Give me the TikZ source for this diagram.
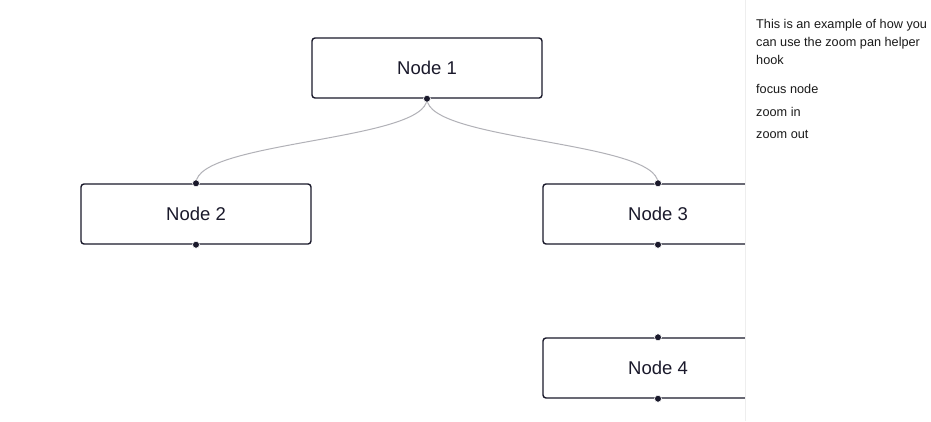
\documentclass[tikz,border=0pt]{standalone}
\usepackage{fontspec}
\setmainfont{Liberation Sans}
\definecolor{nodeborder}{HTML}{1A192B}
\definecolor{edgegray}{HTML}{B1B1B7}
\definecolor{paneltext}{HTML}{1A1A1A}
\definecolor{panelline}{HTML}{EEEEEE}
\begin{document}
\begin{tikzpicture}[x=1pt,y=-1pt,
  flownode/.style={draw=nodeborder, line width=1.4pt, rounded corners=3pt,
    minimum width=230pt, minimum height=60pt, inner sep=0pt, fill=white,
    font=\fontsize{18.5}{20}\selectfont, text=nodeborder},
  edge/.style={draw=edgegray, line width=1pt},
  handle/.style={circle, fill=nodeborder, draw=white, line width=0.6pt, minimum size=7pt, inner sep=0pt},
  paneltxt/.style={anchor=base west, inner sep=0pt, text=paneltext, font=\fontsize{12.7}{16}\selectfont}
]
\useasboundingbox (0,0) rectangle (931,421);
\fill[white] (0,0) rectangle (931,421);
% nodes
\node[flownode] (n1) at (427,68) {Node 1};
\node[flownode] (n2) at (196,214) {Node 2};
\node[flownode] (n3) at (658,214) {Node 3};
\node[flownode] (n4) at (658,368) {Node 4};
% edges
\draw[edge] (n1.south) .. controls +(0,42.5) and +(0,-42.5) .. (n2.north);
\draw[edge] (n1.south) .. controls +(0,42.5) and +(0,-42.5) .. (n3.north);
% handles
\node[handle] (n1b) at (n1.south) {};
\foreach \n in {n2,n3,n4}{
  \node[handle] (\n t) at (\n.north) {};
  \node[handle] (\n b) at (\n.south) {};
}
% panel
\fill[white] (745,0) rectangle (931,421);
\draw[panelline, line width=1pt] (745.5,0) -- (745.5,421);
\node[paneltxt] (p1) at (756,28.5) {This is an example of how you};
\node[paneltxt] (p2) at (756,46) {can use the zoom pan helper};
\node[paneltxt] (p3) at (756,64) {hook};
\node[paneltxt] (p4) at (756,93) {focus node};
\node[paneltxt] (p5) at (756,116) {zoom in};
\node[paneltxt] (p6) at (756,138.5) {zoom out};
\end{tikzpicture}
\end{document}
